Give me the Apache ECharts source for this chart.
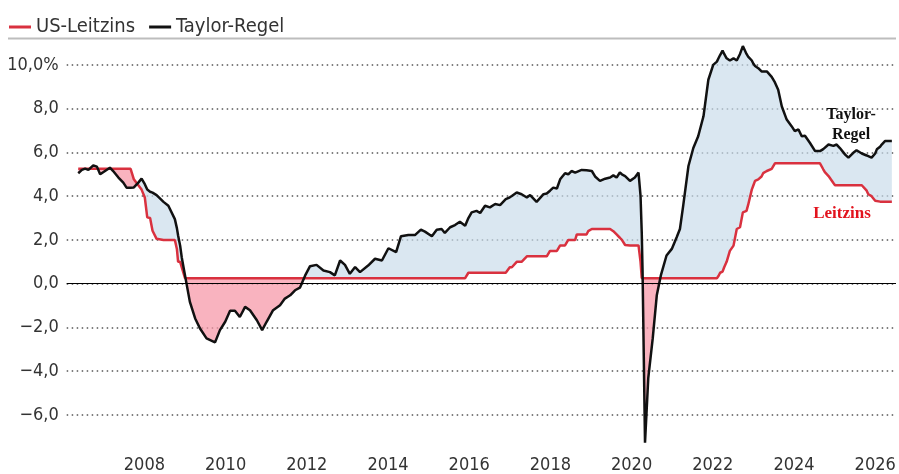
<!DOCTYPE html>
<html>
<head>
<meta charset="utf-8">
<script src="https://cdn.jsdelivr.net/npm/echarts@6/dist/echarts.min.js"></script>
<style>
  html, body { margin: 0; padding: 0; background: #fff; }
  #main { width: 899px; height: 474px; }
</style>
</head>
<body>
<div id="main"></div>
<script>
// Zeitachse (Dezimaljahre)
var dates = [
  2006.37, 2006.46, 2006.54, 2006.62, 2006.74, 2006.83, 2006.91, 2007.03, 2007.15, 2007.23,
  2007.36, 2007.48, 2007.56, 2007.66, 2007.74, 2007.85, 2007.93, 2008.01, 2008.07, 2008.14,
  2008.20, 2008.30, 2008.34, 2008.47, 2008.59, 2008.75, 2008.80, 2008.83, 2008.88, 2008.92,
  2009.00, 2009.12, 2009.25, 2009.37, 2009.53, 2009.74, 2009.86, 2009.99, 2010.11, 2010.23,
  2010.35, 2010.48, 2010.60, 2010.77, 2010.90, 2011.01, 2011.17, 2011.34, 2011.46, 2011.59,
  2011.71, 2011.83, 2011.96, 2012.08, 2012.24, 2012.41, 2012.57, 2012.69, 2012.82, 2012.94,
  2013.06, 2013.19, 2013.31, 2013.51, 2013.68, 2013.85, 2014.01, 2014.20, 2014.32, 2014.50,
  2014.67, 2014.81, 2014.91, 2015.08, 2015.20, 2015.32, 2015.40, 2015.53, 2015.65, 2015.77,
  2015.90, 2015.98, 2016.06, 2016.18, 2016.27, 2016.39, 2016.51, 2016.64, 2016.76, 2016.90,
  2017.00, 2017.05, 2017.17, 2017.29, 2017.42, 2017.50, 2017.66, 2017.83, 2017.91, 2017.99,
  2018.07, 2018.16, 2018.24, 2018.36, 2018.44, 2018.52, 2018.61, 2018.65, 2018.77, 2018.89,
  2018.93, 2019.02, 2019.10, 2019.22, 2019.35, 2019.47, 2019.55, 2019.63, 2019.71, 2019.76,
  2019.84, 2019.96, 2020.08, 2020.17, 2020.22, 2020.25, 2020.27, 2020.33, 2020.41, 2020.52,
  2020.62, 2020.72, 2020.86, 2020.99, 2021.11, 2021.19, 2021.27, 2021.40, 2021.52, 2021.64,
  2021.77, 2021.89, 2022.01, 2022.10, 2022.14, 2022.18, 2022.24, 2022.28, 2022.34, 2022.42,
  2022.51, 2022.59, 2022.67, 2022.74, 2022.83, 2022.87, 2022.96, 2023.00, 2023.04, 2023.12,
  2023.20, 2023.24, 2023.33, 2023.45, 2023.53, 2023.61, 2023.70, 2023.82, 2023.94, 2024.02,
  2024.11, 2024.19, 2024.27, 2024.39, 2024.52, 2024.64, 2024.68, 2024.72, 2024.76, 2024.85,
  2024.97, 2025.01, 2025.05, 2025.13, 2025.26, 2025.34, 2025.46, 2025.54, 2025.67, 2025.71,
  2025.79, 2025.83, 2025.91, 2026.00, 2026.04, 2026.12, 2026.16, 2026.24, 2026.36, 2026.41
];

// Taylor-Regel (%)
var taylor = [
  5.05, 5.2, 5.26, 5.2, 5.41, 5.35, 5.0, 5.15, 5.3, 5.15,
  4.85, 4.62, 4.39, 4.39, 4.4, 4.62, 4.8, 4.55, 4.3, 4.2,
  4.16, 4.05, 4.01, 3.74, 3.56, 2.95, 2.54, 2.2, 1.74, 1.2,
  0.38, -0.83, -1.59, -2.05, -2.5, -2.68, -2.12, -1.74, -1.24, -1.24,
  -1.52, -1.06, -1.21, -1.67, -2.12, -1.74, -1.21, -0.98, -0.68, -0.53,
  -0.3, -0.18, 0.38, 0.8, 0.86, 0.6, 0.53, 0.38, 1.06, 0.86,
  0.45, 0.76, 0.53, 0.83, 1.14, 1.06, 1.62, 1.44, 2.17, 2.23,
  2.23, 2.47, 2.38, 2.17, 2.47, 2.5, 2.32, 2.58, 2.68, 2.83,
  2.65, 3.0, 3.26, 3.33, 3.23, 3.56, 3.49, 3.64, 3.59, 3.86,
  3.95, 4.01, 4.17, 4.09, 3.94, 4.05, 3.74, 4.09, 4.12, 4.25,
  4.39, 4.35, 4.77, 5.05, 5.0, 5.15, 5.08, 5.08, 5.2, 5.18,
  5.16, 5.15, 4.9, 4.7, 4.8, 4.85, 4.95, 4.85, 5.08, 5.0,
  4.92, 4.7, 4.85, 5.08, 4.01, 2.3, 0.53, -7.27, -4.32, -2.5,
  -0.53, 0.38, 1.29, 1.59, 2.12, 2.5, 3.56, 5.38, 6.2, 6.74,
  7.65, 9.32, 10.0, 10.15, 10.3, 10.45, 10.65, 10.5, 10.3, 10.2,
  10.3, 10.2, 10.5, 10.86, 10.5, 10.38, 10.2, 10.05, 9.95, 9.85,
  9.7, 9.7, 9.7, 9.45, 9.2, 8.86, 8.1, 7.5, 7.2, 6.97,
  7.05, 6.74, 6.76, 6.44, 6.06, 6.06, 6.1, 6.15, 6.21, 6.36,
  6.3, 6.32, 6.36, 6.2, 5.9, 5.76, 5.98, 6.1, 5.95, 5.9,
  5.86, 5.82, 5.76, 5.95, 6.14, 6.26, 6.36, 6.52, 6.52, 6.52
];

// US-Leitzins (%)
var leitzins = [
  5.25, 5.25, 5.25, 5.25, 5.25, 5.25, 5.25, 5.25, 5.25, 5.25,
  5.25, 5.25, 5.25, 5.25, 4.77, 4.5, 4.3, 3.94, 3.03, 3.0,
  2.42, 2.05, 2.0, 2.0, 2.0, 2.0, 1.59, 1.0, 1.0, 1.0,
  0.25, 0.25, 0.25, 0.25, 0.25, 0.25, 0.25, 0.25, 0.25, 0.25,
  0.25, 0.25, 0.25, 0.25, 0.25, 0.25, 0.25, 0.25, 0.25, 0.25,
  0.25, 0.25, 0.25, 0.25, 0.25, 0.25, 0.25, 0.25, 0.25, 0.25,
  0.25, 0.25, 0.25, 0.25, 0.25, 0.25, 0.25, 0.25, 0.25, 0.25,
  0.25, 0.25, 0.25, 0.25, 0.25, 0.25, 0.25, 0.25, 0.25, 0.25,
  0.25, 0.5, 0.5, 0.5, 0.5, 0.5, 0.5, 0.5, 0.5, 0.5,
  0.75, 0.75, 1.0, 1.0, 1.25, 1.25, 1.25, 1.25, 1.25, 1.5,
  1.5, 1.5, 1.75, 1.75, 2.0, 2.0, 2.0, 2.25, 2.25, 2.25,
  2.4, 2.5, 2.5, 2.5, 2.5, 2.5, 2.4, 2.25, 2.1, 2.0,
  1.77, 1.75, 1.75, 1.75, 1.0, 0.25, 0.25, 0.25, 0.25, 0.25,
  0.25, 0.25, 0.25, 0.25, 0.25, 0.25, 0.25, 0.25, 0.25, 0.25,
  0.25, 0.25, 0.25, 0.25, 0.35, 0.5, 0.55, 0.75, 1.0, 1.5,
  1.74, 2.5, 2.58, 3.26, 3.33, 3.6, 4.3, 4.5, 4.7, 4.77,
  4.9, 5.05, 5.15, 5.25, 5.5, 5.5, 5.5, 5.5, 5.5, 5.5,
  5.5, 5.5, 5.5, 5.5, 5.5, 5.5, 5.5, 5.23, 5.1, 4.92,
  4.6, 4.5, 4.5, 4.5, 4.5, 4.5, 4.5, 4.5, 4.5, 4.5,
  4.25, 4.09, 4.0, 3.79, 3.75, 3.75, 3.75, 3.75, 3.75, 3.75
];

var yearTicks = [2008, 2010, 2012, 2014, 2016, 2018, 2020, 2022, 2024, 2026];
var valueTicks = [-6, -4, -2, 0, 2, 4, 6, 8, 10];

var FONT = "'Liberation Sans Narrow', 'DejaVu Sans Condensed', sans-serif";
// halbtransparent, damit die gepunkteten Gitterlinien durchscheinen
var BLUE_FILL = 'rgba(200,220,234,0.68)';
var PINK_FILL = 'rgba(246,150,166,0.72)';

var taylorLine = [], leitzinsLine = [];
for (var i = 0; i < dates.length; i++) {
  taylorLine.push([dates[i], taylor[i]]);
  leitzinsLine.push([dates[i], leitzins[i]]);
}

function fmtValue(v) {
  var s = Math.abs(v).toFixed(1).replace('.', ',');
  if (v < 0) s = '\u2212' + s;
  if (v === 10) s += '%';
  return s;
}

// Flaeche zwischen beiden Linien: blau wenn Taylor > Leitzins, rosa sonst
function renderGap(params, api) {
  var children = [];
  var upper = [], lower = [], sign = 0;

  function flush() {
    if (upper.length > 1) {
      children.push({
        type: 'polygon',
        shape: { points: upper.concat(lower.slice().reverse()) },
        style: { fill: sign > 0 ? BLUE_FILL : PINK_FILL, stroke: null }
      });
    }
    upper = []; lower = [];
  }

  for (var i = 0; i < dates.length; i++) {
    var d = taylor[i] - leitzins[i];
    var s = d > 0 ? 1 : (d < 0 ? -1 : sign);
    if (i > 0 && s !== sign && sign !== 0) {
      var d0 = taylor[i - 1] - leitzins[i - 1];
      var f = d0 / (d0 - d);
      var tc = dates[i - 1] + f * (dates[i] - dates[i - 1]);
      var vc = taylor[i - 1] + f * (taylor[i] - taylor[i - 1]);
      var pc = api.coord([tc, vc]);
      upper.push(pc); lower.push(pc);
      flush();
      upper.push(pc); lower.push(pc);
    }
    sign = s;
    upper.push(api.coord([dates[i], taylor[i]]));
    lower.push(api.coord([dates[i], leitzins[i]]));
  }
  flush();
  return { type: 'group', children: children };
}

var option = {
  animation: false,
  backgroundColor: '#fff',
  legend: {
    left: 4,
    top: 12,
    itemWidth: 22,
    itemHeight: 3,
    itemGap: 14,
    icon: 'rect',
    data: ['US-Leitzins', 'Taylor-Regel'],
    textStyle: { fontFamily: FONT, fontSize: 20, color: '#333' }
  },
  grid: { left: 66.7, right: 3, top: 43, bottom: 21.8 },
  xAxis: {
    type: 'value',
    min: 2006.086,
    max: 2026.512,
    axisLine: { show: false },
    axisTick: { show: false },
    splitLine: { show: false },
    axisLabel: {
      customValues: yearTicks,
      formatter: function (v) { return String(v); },
      fontFamily: FONT, fontSize: 18, color: '#333', margin: 6
    }
  },
  yAxis: {
    type: 'value',
    min: -7.6,
    max: 11,
    axisLine: { show: false },
    axisTick: { show: false, customValues: valueTicks },
    splitLine: {
      show: true,
      lineStyle: { type: [1.5, 3.5], width: 1.5, color: '#555' }
    },
    axisLabel: {
      customValues: valueTicks,
      formatter: fmtValue,
      fontFamily: FONT, fontSize: 18, color: '#333', margin: 8
    }
  },
  graphic: [
    {
      type: 'line', silent: true,
      shape: { x1: 8, y1: 38.5, x2: 896, y2: 38.5 },
      style: { stroke: '#bdbdbd', lineWidth: 2 }
    },
    {
      type: 'text', silent: true, x: 851, y: 125, z: 10,
      style: {
        text: 'Taylor-\nRegel', align: 'center', verticalAlign: 'middle',
        font: 'bold 16px "Liberation Serif", serif', fill: '#111', lineHeight: 20
      }
    },
    {
      type: 'text', silent: true, x: 842, y: 214, z: 10,
      style: {
        text: 'Leitzins', align: 'center', verticalAlign: 'middle',
        font: 'bold 17px "Liberation Serif", serif', fill: '#e2131d'
      }
    }
  ],
  series: [
    {
      name: 'gap', type: 'custom', silent: true,
      renderItem: renderGap,
      data: [[dates[0], taylor[0]]],
      encode: { x: 0, y: 1 }
    },
    {
      name: 'US-Leitzins', type: 'line', data: leitzinsLine,
      showSymbol: false, color: '#d9313f',
      lineStyle: { width: 2.5, color: '#d9313f' },
      markLine: {
        silent: true, symbol: 'none', label: { show: false },
        lineStyle: { type: 'solid', color: '#000', width: 1 },
        data: [{ yAxis: 0 }]
      }
    },
    {
      name: 'Taylor-Regel', type: 'line', data: taylorLine,
      showSymbol: false, color: '#111',
      lineStyle: { width: 2.5, color: '#111' }
    }
  ]
};

var myChart = echarts.init(document.getElementById('main'));
myChart.setOption(option);
</script>
</body>
</html>
